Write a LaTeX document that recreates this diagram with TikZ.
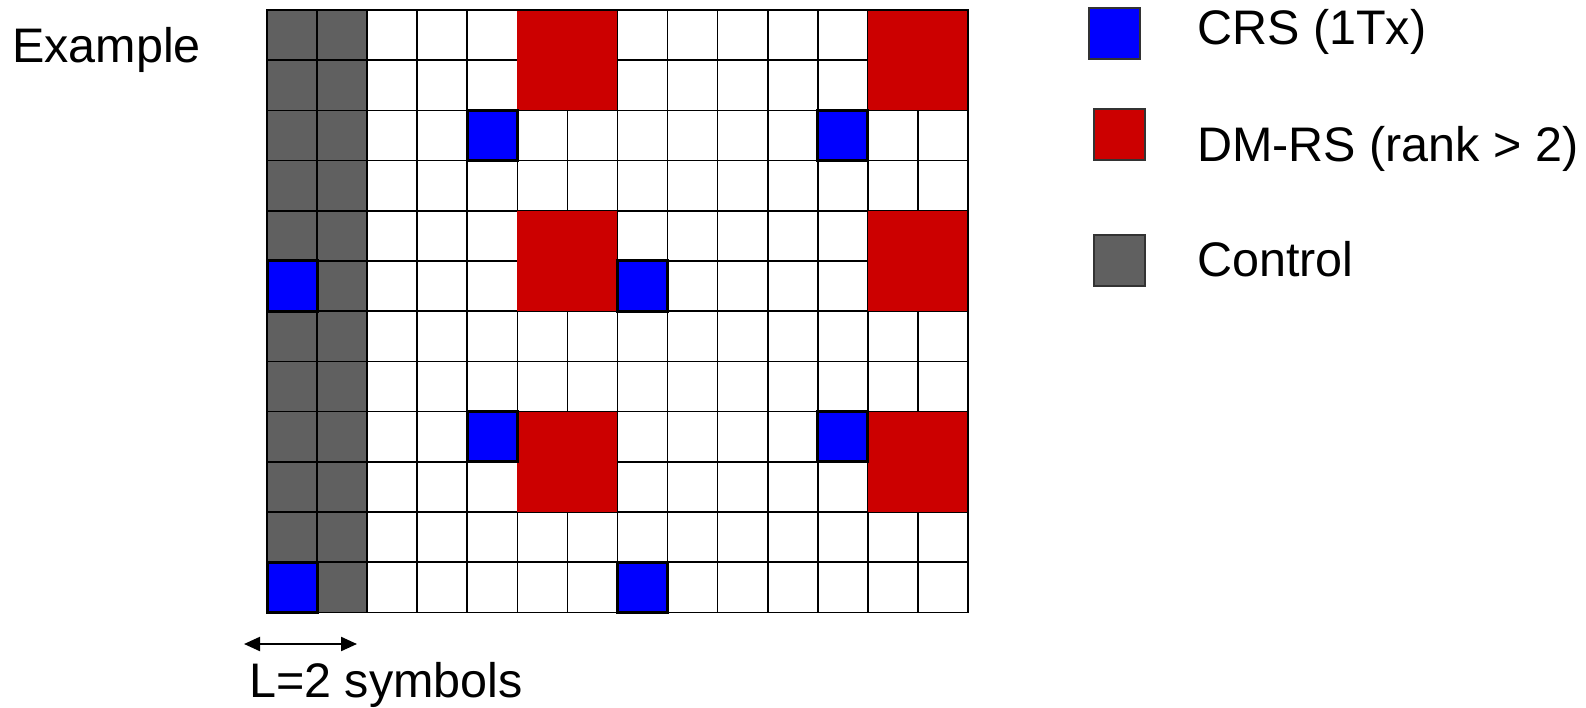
\documentclass[tikz,border=0pt]{standalone}
\usepackage{fontspec}
\setmainfont{Liberation Sans}
\usetikzlibrary{arrows.meta}
\definecolor{crsblue}{HTML}{0000FF}
\definecolor{dmred}{HTML}{CC0000}
\definecolor{ctrlgray}{HTML}{606060}
\begin{document}
\begin{tikzpicture}[x=1pt,y=-1pt,
  gridline/.style={black,line width=1.6pt},
  crscell/.style={fill=crsblue,draw=black,line width=3pt},
  legsq/.style={draw=black!80,line width=1.2pt,minimum width=51pt,minimum height=51pt,inner sep=0pt},
  lbl/.style={font=\fontsize{48.5}{58}\selectfont,inner sep=0pt,anchor=base west}]
\useasboundingbox[fill=white] (0,0) rectangle (1586,708);
\def\gx{267}\def\gy{10}\def\cw{50.07}\def\rh{50.2}
% control region
\fill[ctrlgray] (\gx,\gy) rectangle ({\gx+2*\cw},{\gy+12*\rh});
% grid lines
\foreach \i in {0,...,14}{\draw[gridline] ({\gx+\i*\cw},\gy) -- ({\gx+\i*\cw},{\gy+12*\rh});}
\foreach \j in {0,...,12}{\draw[gridline] (\gx,{\gy+\j*\rh}) -- ({\gx+14*\cw},{\gy+\j*\rh});}
% DM-RS blocks
\foreach \c/\r in {5/0,12/0,5/4,12/4,5/8,12/8}{
  \fill[dmred] ({\gx+\c*\cw},{\gy+\r*\rh}) rectangle ({\gx+(\c+2)*\cw},{\gy+(\r+2)*\rh});}
\draw[gridline] (\gx,\gy) rectangle ({\gx+14*\cw},{\gy+12*\rh});
% CRS cells
\foreach \c/\r in {4/2,11/2,0/5,7/5,4/8,11/8,0/11,7/11}{
  \draw[crscell] ({\gx+\c*\cw},{\gy+\r*\rh}) rectangle ({\gx+(\c+1)*\cw},{\gy+(\r+1)*\rh});}
% labels
\node[lbl] (ex) at (12,63) {Example};
% legend
\node[legsq,fill=crsblue] (lcrs) at (1114.5,33.5) {};
\node[legsq,fill=dmred] (ldm) at (1119.5,134.5) {};
\node[legsq,fill=ctrlgray] (lctrl) at (1119.5,260.5) {};
\node[lbl] (tcrs) at (1197,45) {CRS (1Tx)};
\node[lbl] (tdm) at (1197,162) {DM-RS (rank > 2)};
\node[lbl] (tctrl) at (1197,277) {Control};
% L=2 symbols
\coordinate (aL) at (244,644);
\coordinate (aR) at (357,644);
\draw[line width=2.2pt,{Triangle[length=16pt,width=14pt]}-{Triangle[length=16pt,width=14pt]}] (aL) -- (aR);
\node[lbl] (tsym) at (249,697) {L=2 symbols};
\end{tikzpicture}
\end{document}
